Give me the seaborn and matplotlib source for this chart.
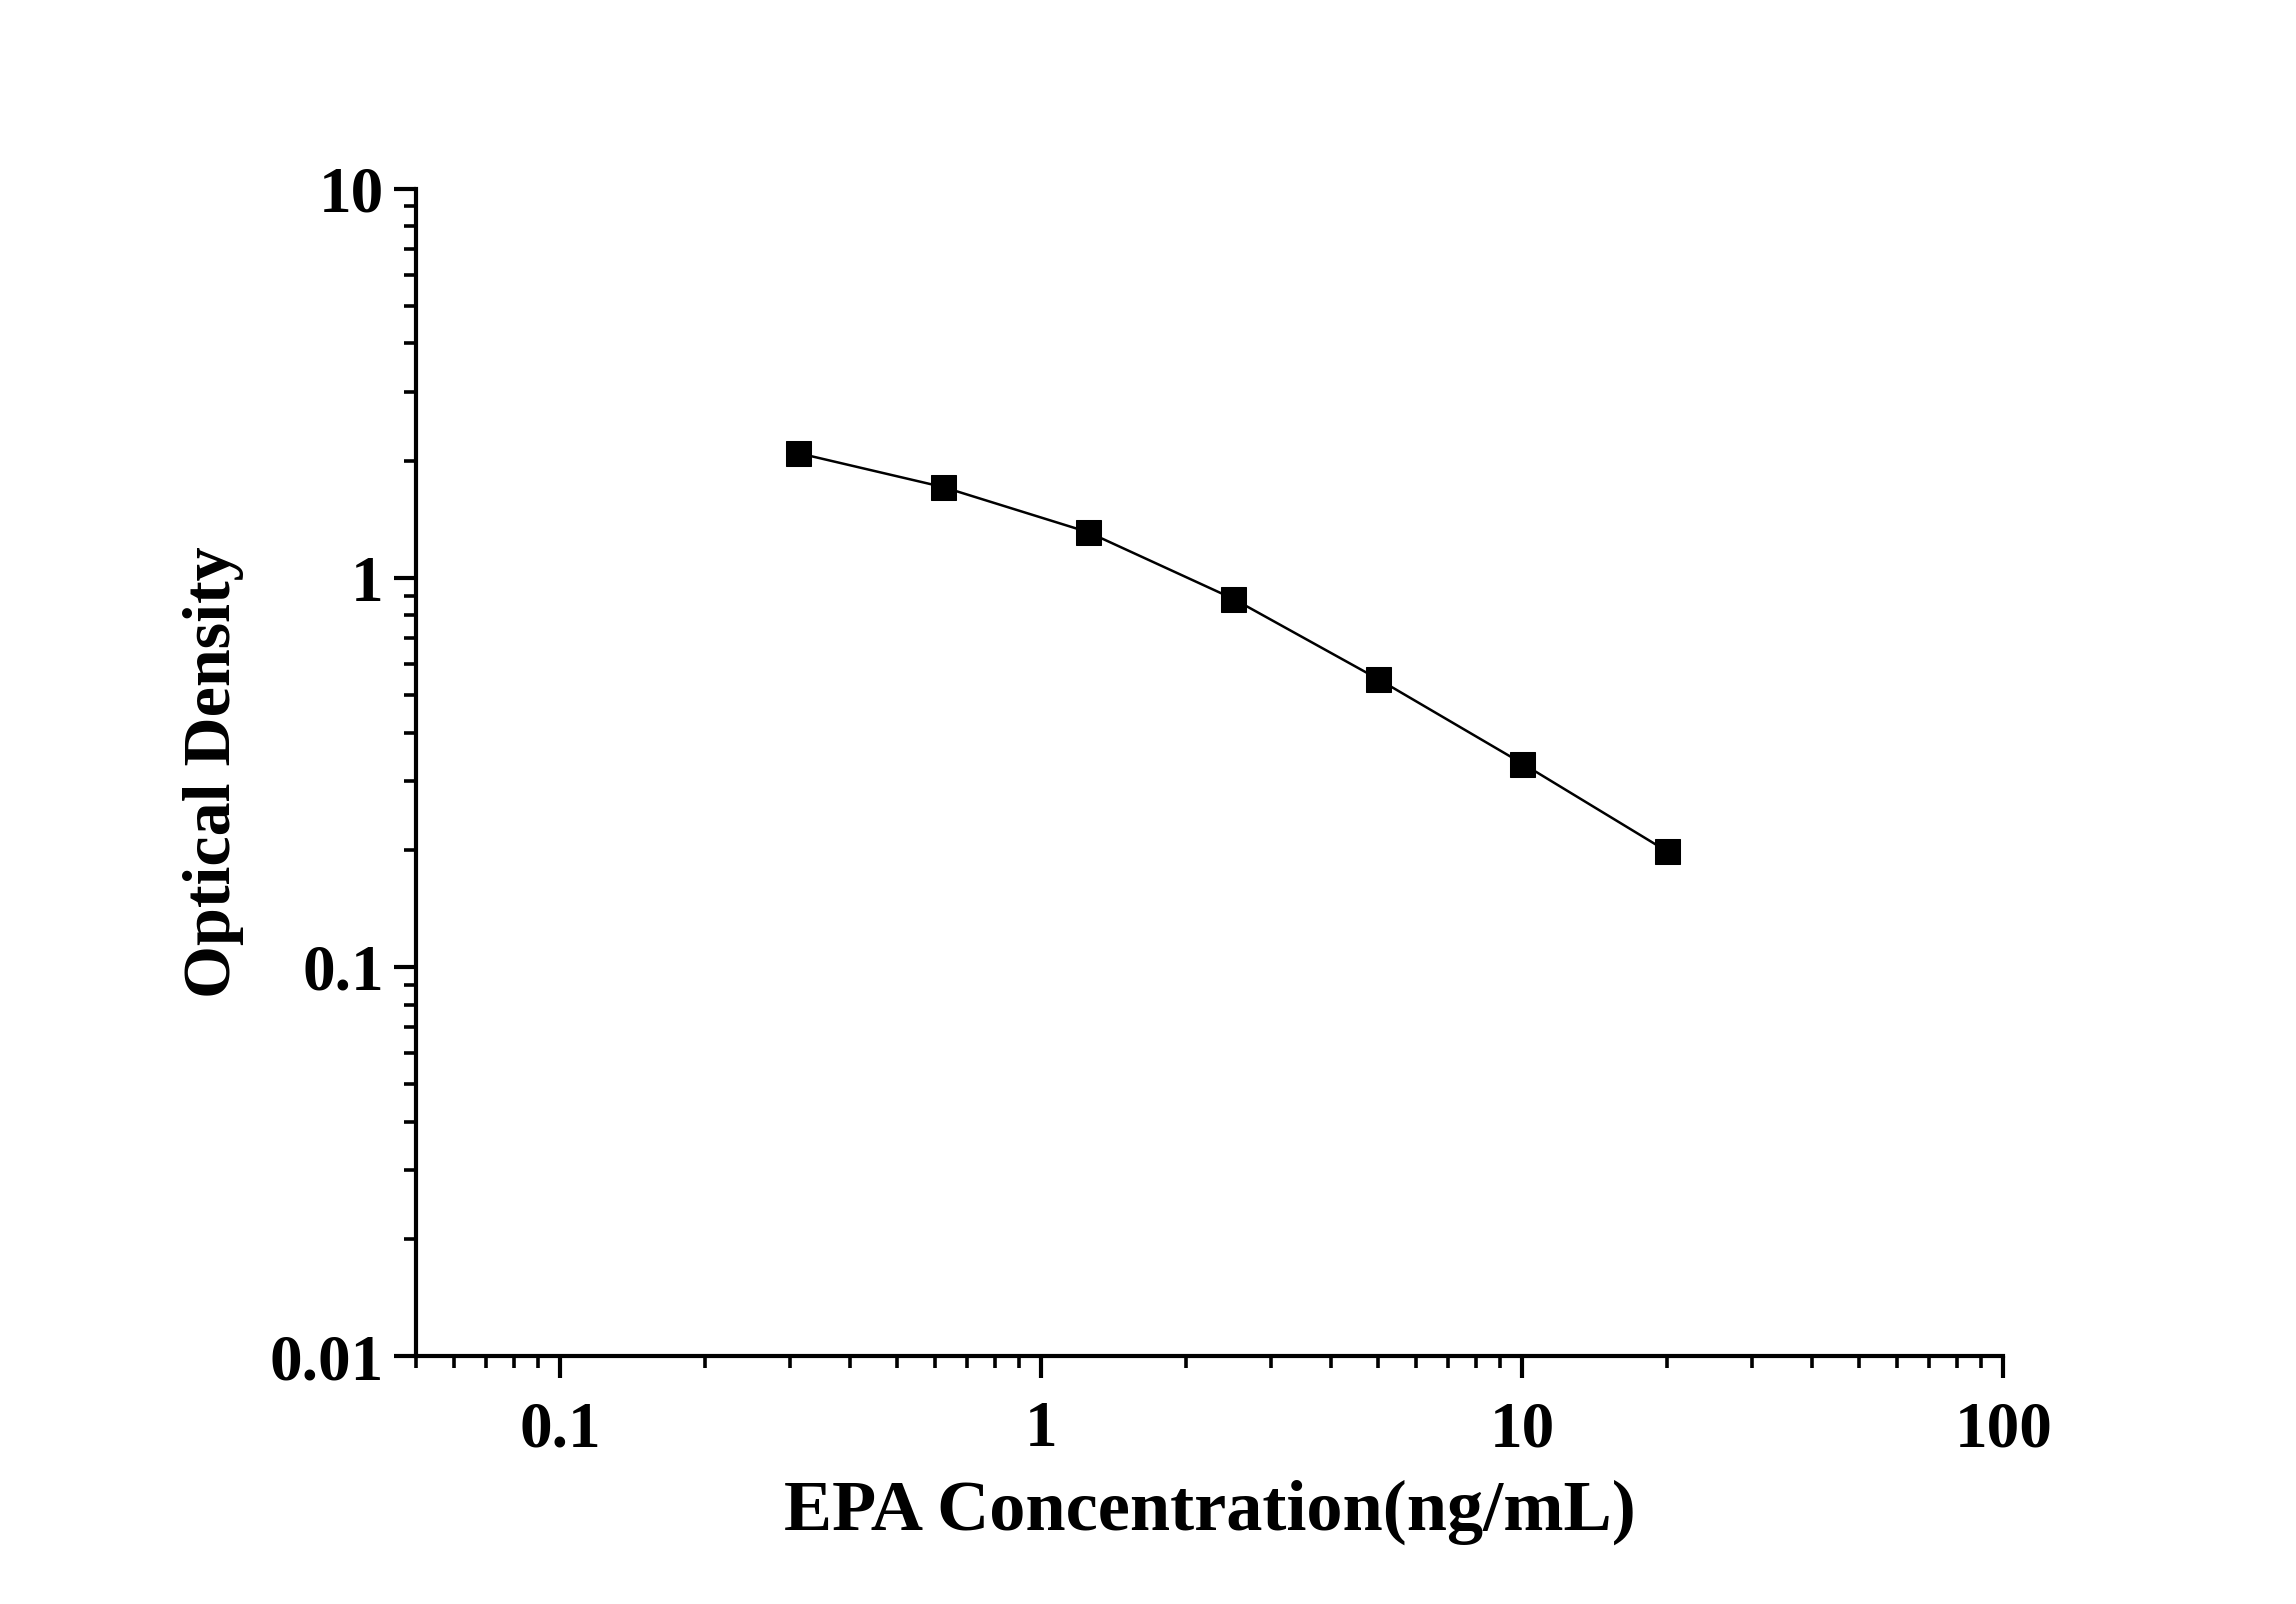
import matplotlib
matplotlib.use("Agg")
import matplotlib.pyplot as plt
import pandas as pd
import seaborn as sns
from matplotlib.ticker import LogLocator, NullFormatter, FixedLocator, FixedFormatter

# standard curve data
concentration = [0.3125, 0.625, 1.25, 2.5, 5, 10, 20]
optical_density = [2.09, 1.71, 1.31, 0.884, 0.55, 0.333, 0.198]

x_ticks = [0.1, 1, 10, 100]
x_tick_labels = ["0.1", "1", "10", "100"]
y_ticks = [0.01, 0.1, 1, 10]
y_tick_labels = ["0.01", "0.1", "1", "10"]

df = pd.DataFrame({"conc": concentration, "od": optical_density})

sns.set_style("ticks")
plt.rcParams["font.family"] = ["Liberation Serif", "DejaVu Serif"]
plt.rcParams["font.weight"] = "bold"
plt.rcParams["text.color"] = "black"
plt.rcParams["axes.labelcolor"] = "black"
plt.rcParams["xtick.color"] = "black"
plt.rcParams["ytick.color"] = "black"

fig = plt.figure(figsize=(22.96, 16.04), dpi=100)
ax = fig.add_axes([0.181, 0.1546, 0.8726 - 0.181, 0.8824 - 0.1546])

sns.lineplot(data=df, x="conc", y="od", ax=ax, color="black", linewidth=1.8,
             marker="s", markersize=18, markeredgecolor="black", markerfacecolor="black")

ax.set_xscale("log")
ax.set_yscale("log")
ax.set_xlim(0.05, 100)
ax.set_ylim(0.01, 10)

ax.xaxis.set_major_locator(FixedLocator(x_ticks))
ax.xaxis.set_major_formatter(FixedFormatter(x_tick_labels))
ax.yaxis.set_major_locator(FixedLocator(y_ticks))
ax.yaxis.set_major_formatter(FixedFormatter(y_tick_labels))
ax.xaxis.set_minor_locator(LogLocator(base=10, subs=range(2, 10), numticks=20))
ax.yaxis.set_minor_locator(LogLocator(base=10, subs=range(2, 10), numticks=20))
ax.xaxis.set_minor_formatter(NullFormatter())
ax.yaxis.set_minor_formatter(NullFormatter())

sns.despine(ax=ax)
for side in ["left", "bottom"]:
    ax.spines[side].set_linewidth(3.0)
    ax.spines[side].set_color("black")

ax.tick_params(which="major", direction="out", length=16, width=3.0, labelsize=47,
               pad=7, colors="black")
ax.tick_params(which="minor", direction="out", length=8.5, width=2.6, colors="black")
ax.tick_params(axis="x", which="major", pad=16)
for lab in ax.get_xticklabels() + ax.get_yticklabels():
    lab.set_fontweight("bold")

ax.set_xlabel("EPA Concentration(ng/mL)", fontsize=52, fontweight="bold", labelpad=14)
ax.set_ylabel("Optical Density", fontsize=49, fontweight="bold", labelpad=18)

fig.savefig("out.png", dpi=100, facecolor="white")
